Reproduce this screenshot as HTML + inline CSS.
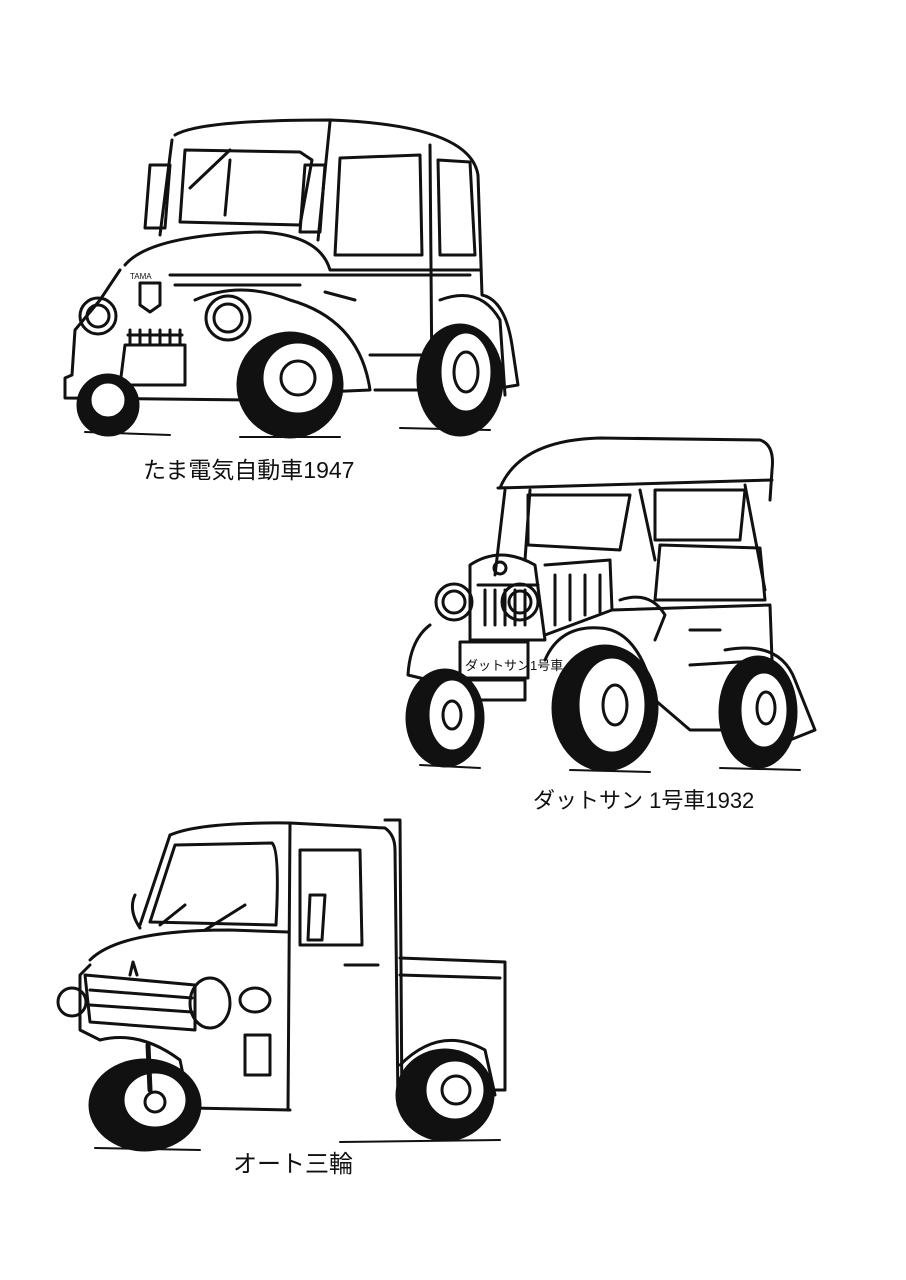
<!DOCTYPE html>
<html><head><meta charset="utf-8"><style>
html,body{margin:0;padding:0;background:#fff;}
svg{display:block}
text{font-family:"Liberation Sans","Noto Sans CJK JP",sans-serif;fill:#111}
</style></head><body>
<svg width="906" height="1280" viewBox="0 0 906 1280" xmlns="http://www.w3.org/2000/svg">
<g fill="none" stroke="#111" stroke-width="3" stroke-linejoin="round" stroke-linecap="round">
<!-- Car 1: Tama -->
<path d="M175 135 Q200 120 330 120 Q470 125 478 175 L482 295 Q505 300 512 345 L518 385 L500 388"/>
<path d="M172 140 L160 235 M330 122 L318 240"/>
<path d="M185 150 L300 152 L312 160 L300 225 L180 222 Z"/>
<path d="M340 158 L420 155 L422 255 L335 255 Z"/>
<path d="M438 160 L470 162 L475 255 L440 255 Z"/>
<path d="M430 145 L432 390"/>
<path d="M150 165 L170 165 L165 228 L145 228 Z"/>
<path d="M305 165 L325 165 L320 232 L300 232 Z"/>
<path d="M190 188 L230 150 M230 160 L225 215"/>
<path d="M125 265 Q150 235 260 232 Q320 235 330 270 L480 270"/>
<path d="M120 270 L100 300 L75 330 L72 375 L65 378 L65 398 L250 400"/>
<path d="M170 275 L470 275 M175 285 L300 285"/>
<path d="M125 345 L185 345 L185 385 L120 385 Z"/>
<path d="M128 335 L182 335 M130 345 L130 330 M140 345 L140 330 M150 345 L150 330 M160 345 L160 330 M170 345 L170 330 M180 345 L180 330"/>
<path d="M140 283 L160 283 L160 305 L150 312 L140 305 Z"/>
<circle cx="98" cy="316" r="18"/><circle cx="98" cy="316" r="11"/>
<circle cx="228" cy="318" r="22"/><circle cx="228" cy="318" r="14"/>
<path d="M195 300 Q240 280 290 300 Q360 320 370 390 L255 395"/>
<path d="M325 292 L355 300"/>
<path d="M370 355 L430 355 L430 390 L375 390"/>
<path d="M440 300 Q480 285 500 320 L505 395"/>
<g fill="#111"><ellipse cx="108" cy="405" rx="30" ry="30"/><ellipse cx="290" cy="385" rx="52" ry="52"/><ellipse cx="460" cy="380" rx="42" ry="55"/></g>
<circle cx="108" cy="400" r="18" fill="#fff"/>
<circle cx="298" cy="378" r="36" fill="#fff"/><circle cx="298" cy="378" r="17"/>
<ellipse cx="466" cy="372" rx="26" ry="40" fill="#fff"/><ellipse cx="466" cy="372" rx="12" ry="20"/>
<path d="M85 432 L170 435 M240 437 L340 437 M400 428 L490 430" stroke-width="2"/>

<!-- Car 2: Datsun -->
<path d="M500 488 Q520 440 600 438 L760 440 Q775 445 772 470 L770 500"/>
<path d="M498 488 L772 480"/>
<path d="M505 490 L495 575 M530 490 L525 560 M640 490 L655 560 M745 485 L765 590"/>
<path d="M528 495 L630 495 L620 550 L528 545 Z"/>
<path d="M655 490 L745 490 L740 540 L655 540 Z"/>
<path d="M660 545 L760 548 L765 600 L655 600 Z"/>
<path d="M470 565 Q500 545 535 565 L545 640 L470 640 Z"/>
<path d="M478 585 L538 585 M485 590 L485 625 M495 590 L495 625 M505 590 L505 625 M515 590 L515 625 M525 590 L525 625"/>
<circle cx="500" cy="568" r="6"/>
<path d="M545 565 L610 560 L612 610 L545 635"/>
<path d="M555 575 L555 625 M570 575 L570 620 M585 575 L585 615 M600 575 L600 612"/>
<circle cx="454" cy="602" r="18"/><circle cx="454" cy="602" r="11"/>
<circle cx="520" cy="602" r="18"/><circle cx="520" cy="602" r="11"/>
<path d="M460 642 L528 642 L528 678 L460 678 Z"/>
<path d="M470 680 L525 680 L525 700 L470 700 Z"/>
<path d="M430 625 Q410 640 408 675 L470 690 M545 660 Q560 625 600 628 Q640 630 655 700 L690 730 L730 730"/>
<path d="M612 610 L770 605 L772 660 L690 665 M690 630 L720 630"/>
<path d="M725 650 Q780 640 795 680 L815 730 L790 740"/>
<path d="M620 600 Q650 590 665 615 L655 640"/>
<g fill="#111"><ellipse cx="445" cy="718" rx="38" ry="48"/><ellipse cx="605" cy="708" rx="52" ry="62"/><ellipse cx="758" cy="712" rx="38" ry="55"/></g>
<ellipse cx="452" cy="715" rx="24" ry="36" fill="#fff"/><ellipse cx="452" cy="715" rx="9" ry="14"/>
<ellipse cx="612" cy="705" rx="34" ry="48" fill="#fff"/><ellipse cx="615" cy="705" rx="12" ry="20"/>
<ellipse cx="764" cy="710" rx="24" ry="38" fill="#fff"/><ellipse cx="766" cy="708" rx="9" ry="16"/>
<path d="M420 765 L480 768 M570 770 L650 772 M720 768 L800 770" stroke-width="2"/>

<!-- Car 3: auto three-wheeler -->
<path d="M170 835 Q200 822 290 823 L385 828 Q395 835 395 850 L398 1105"/>
<path d="M170 835 L140 925 M290 823 L288 1110"/>
<path d="M175 845 L272 843 Q280 850 276 925 L150 922 Z"/>
<path d="M300 850 L360 850 L362 945 L300 945 Z"/>
<path d="M385 820 L400 820 L402 1115"/>
<path d="M135 895 Q128 910 140 928"/>
<path d="M310 895 L325 895 L322 940 L308 940 Z"/>
<path d="M160 925 L185 905 M205 930 L245 905"/>
<path d="M90 960 Q120 930 230 930 L288 932"/>
<path d="M90 965 L80 975 L80 1030 L100 1040"/>
<path d="M85 975 L195 985 L195 1030 L90 1022 Z"/>
<path d="M90 990 L192 998 M90 1005 L192 1012"/>
<circle cx="72" cy="1002" r="14"/>
<ellipse cx="210" cy="1003" rx="20" ry="25"/><ellipse cx="255" cy="1000" rx="15" ry="12"/>
<path d="M130 975 L133 962 L137 975"/>
<path d="M345 965 L378 965"/>
<path d="M400 958 L505 962 L505 1090 L480 1090 M400 975 L500 978"/>
<path d="M245 1035 L270 1035 L270 1075 L245 1075 Z"/>
<path d="M100 1040 Q140 1030 180 1060 L190 1108 L290 1110"/>
<path d="M400 1065 Q440 1025 485 1050 L495 1095"/>
<g fill="#111"><ellipse cx="145" cy="1105" rx="55" ry="45"/><ellipse cx="445" cy="1095" rx="48" ry="45"/></g>
<ellipse cx="155" cy="1100" rx="32" ry="28" fill="#fff"/><circle cx="155" cy="1102" r="10"/>
<ellipse cx="455" cy="1090" rx="30" ry="30" fill="#fff"/><circle cx="456" cy="1090" r="14"/>
<path d="M148 1045 L150 1090" stroke-width="5"/>
<path d="M95 1148 L200 1150 M340 1142 L500 1140" stroke-width="2"/>
</g>
<text x="143" y="478" font-size="23">たま電気自動車1947</text>
<text x="533" y="808" font-size="22">ダットサン 1号車1932</text>
<text x="465" y="670" font-size="13">ダットサン1号車</text>
<text x="233" y="1172" font-size="24">オート三輪</text>
<text x="130" y="279" font-size="8">TAMA</text>
</svg>
</body></html>
